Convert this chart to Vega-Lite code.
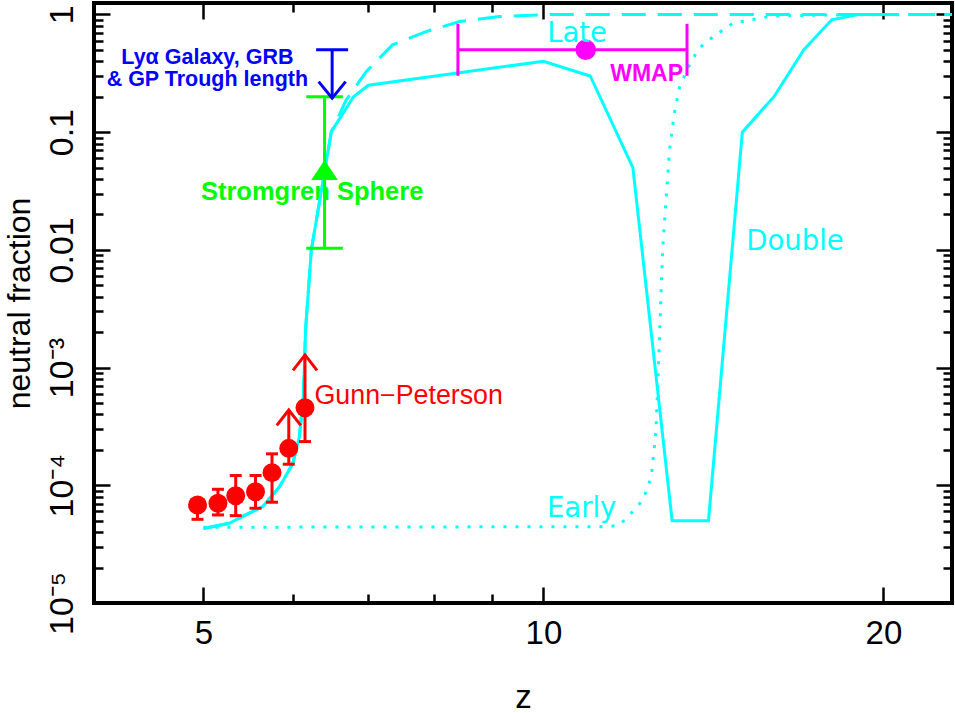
{
  "$schema": "https://vega.github.io/schema/vega-lite/v6.json",
  "width": 858,
  "height": 600,
  "autosize": "none",
  "padding": {"left": 94, "top": 3, "right": 3, "bottom": 110},
  "background": "white",
  "config": {"view": {"stroke": "black", "strokeWidth": 4}},
  "resolve": {"axis": {"x": "independent", "y": "independent"}},
  "layer": [
    {
      "data": {"values": [{"z": 6.24, "f": 0.0265, "t": "Stromgren Sphere"}]},
      "mark": {"type": "text", "font": "Liberation Sans", "fontSize": 25.5, "fontWeight": "bold", "color": "#00FF00", "align": "center", "baseline": "alphabetic"},
      "encoding": {
        "x": {"field": "z", "type": "quantitative", "scale": {"type": "log", "domain": [4, 23], "nice": false, "zero": false}, "axis": null},
        "y": {"field": "f", "type": "quantitative", "scale": {"type": "log", "domain": [0.00001, 1.25], "nice": false, "zero": false}, "axis": null},
        "text": {"field": "t"}
      }
    },
    {
      "data": {"values": [
        {"z": 5.0, "f": 4.4e-5}, {"z": 11.4, "f": 4.45e-5}, {"z": 11.68, "f": 4.6e-5}, {"z": 12.0, "f": 6.0e-5},
        {"z": 12.25, "f": 7.5e-5}, {"z": 12.46, "f": 1.18e-4}, {"z": 12.58, "f": 2.95e-4}, {"z": 12.68, "f": 2.3e-3},
        {"z": 12.75, "f": 0.01}, {"z": 12.84, "f": 0.0265}, {"z": 12.93, "f": 0.0706}, {"z": 13.06, "f": 0.146},
        {"z": 13.2, "f": 0.244}, {"z": 13.47, "f": 0.372}, {"z": 13.7, "f": 0.5}, {"z": 13.94, "f": 0.588},
        {"z": 14.71, "f": 0.842}, {"z": 15.95, "f": 0.971}, {"z": 18, "f": 0.99}, {"z": 23, "f": 1.0}
      ]},
      "mark": {"type": "line", "color": "#00FFFF", "strokeWidth": 3, "strokeDash": [3, 9]},
      "encoding": {
        "x": {"field": "z", "type": "quantitative", "scale": {"type": "log", "domain": [4, 23], "nice": false, "zero": false},
          "axis": {"orient": "bottom", "values": [5, 10, 20], "format": "d", "ticks": false, "domain": false, "grid": false,
            "labelFont": "Liberation Sans", "labelFontSize": 33, "labelColor": "black", "labelPadding": 40, "labelBaseline": "alphabetic",
            "labelAlign": "center", "labelAngle": 0, "labelFlush": false, "labelOverlap": false,
            "title": "z", "titleFont": "Liberation Sans", "titleFontSize": 33, "titleFontWeight": "normal", "titleColor": "black",
            "titleY": 104, "titleBaseline": "alphabetic"}},
        "y": {"field": "f", "type": "quantitative", "scale": {"type": "log", "domain": [0.00001, 1.25], "nice": false, "zero": false},
          "axis": {"orient": "left", "values": [0.00001, 0.0001, 0.001, 0.01, 0.1, 1], "ticks": false, "domain": false, "grid": false,
            "labelExpr": "datum.value > 0.5 ? '1' : datum.value > 0.05 ? '0.1' : datum.value > 0.005 ? '0.01' : datum.value > 0.0005 ? '10⁻³' : datum.value > 0.00005 ? '10⁻⁴' : '10⁻⁵'",
            "labelFont": "Liberation Sans", "labelFontSize": 34, "labelColor": "black", "labelAngle": 270, "labelAlign": "center",
            "labelBaseline": "alphabetic", "labelPadding": 22, "labelOverlap": false, "labelFlush": false,
            "title": "neutral fraction", "titleFont": "Liberation Sans", "titleFontSize": 32, "titleFontWeight": "normal", "titleColor": "black",
            "titleAngle": 270, "titleX": -65, "titleY": 300, "titleAlign": "center", "titleBaseline": "alphabetic"}}
      }
    },
    {
      "data": {"values": [
        {"z": 5.0, "f": 4.3e-5}, {"z": 5.27, "f": 4.75e-5}, {"z": 5.45, "f": 5.6e-5}, {"z": 5.64, "f": 6.58e-5}, {"z": 5.84, "f": 9.73e-5},
        {"z": 6.0, "f": 1.54e-4}, {"z": 6.08, "f": 2.59e-4}, {"z": 6.13, "f": 5.66e-4}, {"z": 6.157, "f": 2.09e-3},
        {"z": 6.23, "f": 0.01}, {"z": 6.49, "f": 0.101}, {"z": 6.69, "f": 0.188}, {"z": 6.97, "f": 0.327},
        {"z": 7.35, "f": 0.551}, {"z": 7.87, "f": 0.714}, {"z": 8.43, "f": 0.869}, {"z": 9.14, "f": 0.958},
        {"z": 10.12, "f": 1.0}, {"z": 23, "f": 1.0}
      ]},
      "mark": {"type": "line", "color": "#00FFFF", "strokeWidth": 3, "strokeDash": [24, 12]},
      "encoding": {
        "x": {"field": "z", "type": "quantitative", "scale": {"type": "log", "domain": [4, 23], "nice": false, "zero": false},
          "axis": {"orient": "bottom", "values": [5, 10, 20], "labels": false, "domain": false, "grid": false, "ticks": true, "tickSize": -16, "tickWidth": 2.5, "tickColor": "black", "title": null}},
        "y": {"field": "f", "type": "quantitative", "scale": {"type": "log", "domain": [0.00001, 1.25], "nice": false, "zero": false},
          "axis": {"orient": "left", "values": [0.00001, 0.0001, 0.001, 0.01, 0.1, 1], "labels": false, "domain": false, "grid": false, "ticks": true, "tickSize": -16, "tickWidth": 2.5, "tickColor": "black", "title": null}}
      }
    },
    {
      "data": {"values": [
        {"z": 5.0, "f": 4.3e-5}, {"z": 5.27, "f": 4.75e-5}, {"z": 5.45, "f": 5.6e-5}, {"z": 5.64, "f": 6.58e-5}, {"z": 5.84, "f": 9.73e-5},
        {"z": 6.0, "f": 1.54e-4}, {"z": 6.08, "f": 2.59e-4}, {"z": 6.13, "f": 5.66e-4}, {"z": 6.157, "f": 2.09e-3},
        {"z": 6.23, "f": 0.01}, {"z": 6.49, "f": 0.101}, {"z": 6.79, "f": 0.2}, {"z": 7.0, "f": 0.25},
        {"z": 10, "f": 0.4}, {"z": 11, "f": 0.3}, {"z": 12, "f": 0.05}, {"z": 13, "f": 5e-5}, {"z": 14, "f": 5e-5},
        {"z": 15, "f": 0.1}, {"z": 16, "f": 0.2}, {"z": 17, "f": 0.5}, {"z": 18, "f": 0.9}, {"z": 19, "f": 1.0}, {"z": 20, "f": 1.0}
      ]},
      "mark": {"type": "line", "color": "#00FFFF", "strokeWidth": 3},
      "encoding": {
        "x": {"field": "z", "type": "quantitative", "scale": {"type": "log", "domain": [4, 23], "nice": false, "zero": false},
          "axis": {"orient": "bottom", "values": [6, 7, 8, 9], "labels": false, "domain": false, "grid": false, "ticks": true, "tickSize": -9, "tickWidth": 2.5, "tickColor": "black", "title": null}},
        "y": {"field": "f", "type": "quantitative", "scale": {"type": "log", "domain": [0.00001, 1.25], "nice": false, "zero": false},
          "axis": {"orient": "left", "values": [0.00002, 0.00003, 0.00004, 0.00005, 0.00006, 0.00007, 0.00008, 0.00009, 0.0002, 0.0003, 0.0004, 0.0005, 0.0006, 0.0007, 0.0008, 0.0009, 0.002, 0.003, 0.004, 0.005, 0.006, 0.007, 0.008, 0.009, 0.02, 0.03, 0.04, 0.05, 0.06, 0.07, 0.08, 0.09, 0.2, 0.3, 0.4, 0.5, 0.6, 0.7, 0.8, 0.9], "labels": false, "domain": false, "grid": false, "ticks": true, "tickSize": -9, "tickWidth": 2.5, "tickColor": "black", "title": null}}
      }
    },
    {
      "data": {"values": [
        {"z": 4.94, "lo": 5.14e-5, "hi": 7.5e-5}, {"z": 5.15, "lo": 5.6e-5, "hi": 9.25e-5}, {"z": 5.34, "lo": 5.52e-5, "hi": 1.21e-4},
        {"z": 5.56, "lo": 6.38e-5, "hi": 1.21e-4}, {"z": 5.75, "lo": 7.18e-5, "hi": 1.85e-4}, {"z": 5.95, "lo": 1.51e-4, "hi": 4.36e-4},
        {"z": 6.15, "lo": 2.35e-4, "hi": 1.28e-3}
      ]},
      "mark": {"type": "rule", "color": "#FF0000", "strokeWidth": 3},
      "encoding": {
        "x": {"field": "z", "type": "quantitative", "scale": {"type": "log", "domain": [4, 23], "nice": false, "zero": false},
          "axis": {"orient": "top", "values": [5, 10, 20], "labels": false, "domain": false, "grid": false, "ticks": true, "tickSize": -16, "tickWidth": 2.5, "tickColor": "black", "title": null}},
        "y": {"field": "lo", "type": "quantitative", "scale": {"type": "log", "domain": [0.00001, 1.25], "nice": false, "zero": false},
          "axis": {"orient": "right", "values": [0.00001, 0.0001, 0.001, 0.01, 0.1, 1], "labels": false, "domain": false, "grid": false, "ticks": true, "tickSize": -16, "tickWidth": 2.5, "tickColor": "black", "title": null}},
        "y2": {"field": "hi"}
      }
    },
    {
      "data": {"values": [
        {"z": 4.94, "f": 6.8e-5}, {"z": 5.15, "f": 7.03e-5}, {"z": 5.34, "f": 8.16e-5}, {"z": 5.56, "f": 8.82e-5},
        {"z": 5.75, "f": 1.28e-4}, {"z": 5.95, "f": 2.06e-4}, {"z": 6.15, "f": 4.56e-4}
      ]},
      "mark": {"type": "point", "shape": "circle", "filled": true, "color": "#FF0000", "size": 360, "opacity": 1},
      "encoding": {
        "x": {"field": "z", "type": "quantitative", "scale": {"type": "log", "domain": [4, 23], "nice": false, "zero": false},
          "axis": {"orient": "top", "values": [6, 7, 8, 9], "labels": false, "domain": false, "grid": false, "ticks": true, "tickSize": -9, "tickWidth": 2.5, "tickColor": "black", "title": null}},
        "y": {"field": "f", "type": "quantitative", "scale": {"type": "log", "domain": [0.00001, 1.25], "nice": false, "zero": false},
          "axis": {"orient": "right", "values": [0.00002, 0.00003, 0.00004, 0.00005, 0.00006, 0.00007, 0.00008, 0.00009, 0.0002, 0.0003, 0.0004, 0.0005, 0.0006, 0.0007, 0.0008, 0.0009, 0.002, 0.003, 0.004, 0.005, 0.006, 0.007, 0.008, 0.009, 0.02, 0.03, 0.04, 0.05, 0.06, 0.07, 0.08, 0.09, 0.2, 0.3, 0.4, 0.5, 0.6, 0.7, 0.8, 0.9], "labels": false, "domain": false, "grid": false, "ticks": true, "tickSize": -9, "tickWidth": 2.5, "tickColor": "black", "title": null}}
      }
    },
    {
      "data": {"values": [
        {"z": 4.94, "f": 5.14e-5}, {"z": 5.15, "f": 5.6e-5}, {"z": 5.34, "f": 5.52e-5}, {"z": 5.56, "f": 6.38e-5},
        {"z": 5.75, "f": 7.18e-5}, {"z": 5.95, "f": 1.51e-4}, {"z": 6.15, "f": 2.35e-4},
        {"z": 5.15, "f": 9.25e-5}, {"z": 5.34, "f": 1.21e-4}, {"z": 5.56, "f": 1.21e-4}, {"z": 5.75, "f": 1.85e-4}
      ]},
      "mark": {"type": "point", "shape": "M -1 0 L 1 0", "filled": false, "stroke": "#FF0000", "strokeWidth": 3, "size": 144, "opacity": 1},
      "encoding": {
        "x": {"field": "z", "type": "quantitative", "scale": {"type": "log", "domain": [4, 23], "nice": false, "zero": false}, "axis": null},
        "y": {"field": "f", "type": "quantitative", "scale": {"type": "log", "domain": [0.00001, 1.25], "nice": false, "zero": false}, "axis": null}
      }
    },
    {
      "data": {"values": [{"z": 5.95, "f": 4.36e-4}, {"z": 6.15, "f": 1.28e-3}]},
      "mark": {"type": "point", "shape": "M -1 1.28 L 0 0 L 1 1.28", "filled": false, "stroke": "#FF0000", "strokeWidth": 3, "size": 576, "opacity": 1},
      "encoding": {
        "x": {"field": "z", "type": "quantitative", "scale": {"type": "log", "domain": [4, 23], "nice": false, "zero": false}, "axis": null},
        "y": {"field": "f", "type": "quantitative", "scale": {"type": "log", "domain": [0.00001, 1.25], "nice": false, "zero": false}, "axis": null}
      }
    },
    {
      "data": {"values": [{"z": 6.4, "lo": 0.0103, "hi": 0.2}]},
      "mark": {"type": "rule", "color": "#00FF00", "strokeWidth": 3},
      "encoding": {
        "x": {"field": "z", "type": "quantitative", "scale": {"type": "log", "domain": [4, 23], "nice": false, "zero": false}, "axis": null},
        "y": {"field": "lo", "type": "quantitative", "scale": {"type": "log", "domain": [0.00001, 1.25], "nice": false, "zero": false}, "axis": null},
        "y2": {"field": "hi"}
      }
    },
    {
      "data": {"values": [{"z": 6.4, "f": 0.0103}, {"z": 6.4, "f": 0.2}]},
      "mark": {"type": "point", "shape": "M -1 0 L 1 0", "filled": false, "stroke": "#00FF00", "strokeWidth": 3, "size": 1340, "opacity": 1},
      "encoding": {
        "x": {"field": "z", "type": "quantitative", "scale": {"type": "log", "domain": [4, 23], "nice": false, "zero": false}, "axis": null},
        "y": {"field": "f", "type": "quantitative", "scale": {"type": "log", "domain": [0.00001, 1.25], "nice": false, "zero": false}, "axis": null}
      }
    },
    {
      "data": {"values": [{"z": 6.4, "f": 0.0477}]},
      "mark": {"type": "point", "shape": "M 0 -0.75 L -1 0.75 L 1 0.75 Z", "filled": true, "color": "#00FF00", "size": 712, "opacity": 1},
      "encoding": {
        "x": {"field": "z", "type": "quantitative", "scale": {"type": "log", "domain": [4, 23], "nice": false, "zero": false}, "axis": null},
        "y": {"field": "f", "type": "quantitative", "scale": {"type": "log", "domain": [0.00001, 1.25], "nice": false, "zero": false}, "axis": null}
      }
    },
    {
      "data": {"values": [{"z": 6.5, "lo": 0.194, "hi": 0.5}]},
      "mark": {"type": "rule", "color": "#0000FF", "strokeWidth": 3},
      "encoding": {
        "x": {"field": "z", "type": "quantitative", "scale": {"type": "log", "domain": [4, 23], "nice": false, "zero": false}, "axis": null},
        "y": {"field": "lo", "type": "quantitative", "scale": {"type": "log", "domain": [0.00001, 1.25], "nice": false, "zero": false}, "axis": null},
        "y2": {"field": "hi"}
      }
    },
    {
      "data": {"values": [{"z": 6.5, "f": 0.5}]},
      "mark": {"type": "point", "shape": "M -1 0 L 1 0", "filled": false, "stroke": "#0000FF", "strokeWidth": 3, "size": 1024, "opacity": 1},
      "encoding": {
        "x": {"field": "z", "type": "quantitative", "scale": {"type": "log", "domain": [4, 23], "nice": false, "zero": false}, "axis": null},
        "y": {"field": "f", "type": "quantitative", "scale": {"type": "log", "domain": [0.00001, 1.25], "nice": false, "zero": false}, "axis": null}
      }
    },
    {
      "data": {"values": [{"z": 6.5, "f": 0.194}]},
      "mark": {"type": "point", "shape": "M -1 -1.23 L 0 0 L 1 -1.23", "filled": false, "stroke": "#0000FF", "strokeWidth": 3, "size": 729, "opacity": 1},
      "encoding": {
        "x": {"field": "z", "type": "quantitative", "scale": {"type": "log", "domain": [4, 23], "nice": false, "zero": false}, "axis": null},
        "y": {"field": "f", "type": "quantitative", "scale": {"type": "log", "domain": [0.00001, 1.25], "nice": false, "zero": false}, "axis": null}
      }
    },
    {
      "data": {"values": [{"z1": 8.4, "z2": 13.4, "f": 0.5}]},
      "mark": {"type": "rule", "color": "#FF00FF", "strokeWidth": 3},
      "encoding": {
        "x": {"field": "z1", "type": "quantitative", "scale": {"type": "log", "domain": [4, 23], "nice": false, "zero": false}, "axis": null},
        "x2": {"field": "z2"},
        "y": {"field": "f", "type": "quantitative", "scale": {"type": "log", "domain": [0.00001, 1.25], "nice": false, "zero": false}, "axis": null}
      }
    },
    {
      "data": {"values": [{"z": 8.4, "f": 0.5}, {"z": 13.4, "f": 0.5}]},
      "mark": {"type": "point", "shape": "M 0 -1 L 0 1", "filled": false, "stroke": "#FF00FF", "strokeWidth": 3, "size": 2704, "opacity": 1},
      "encoding": {
        "x": {"field": "z", "type": "quantitative", "scale": {"type": "log", "domain": [4, 23], "nice": false, "zero": false}, "axis": null},
        "y": {"field": "f", "type": "quantitative", "scale": {"type": "log", "domain": [0.00001, 1.25], "nice": false, "zero": false}, "axis": null}
      }
    },
    {
      "data": {"values": [{"z": 10.9, "f": 0.5}]},
      "mark": {"type": "point", "shape": "circle", "filled": true, "color": "#FF00FF", "size": 420, "opacity": 1},
      "encoding": {
        "x": {"field": "z", "type": "quantitative", "scale": {"type": "log", "domain": [4, 23], "nice": false, "zero": false}, "axis": null},
        "y": {"field": "f", "type": "quantitative", "scale": {"type": "log", "domain": [0.00001, 1.25], "nice": false, "zero": false}, "axis": null}
      }
    },
    {
      "data": {"values": [{"z": 10.71, "f": 0.588, "t": "Late"}, {"z": 10.81, "f": 5.38e-5, "t": "Early"}, {"z": 16.7, "f": 0.01, "t": "Double"}]},
      "mark": {"type": "text", "font": "DejaVu Sans", "fontSize": 27.5, "fontWeight": "normal", "color": "#00FFFF", "align": "center", "baseline": "alphabetic"},
      "encoding": {
        "x": {"field": "z", "type": "quantitative", "scale": {"type": "log", "domain": [4, 23], "nice": false, "zero": false}, "axis": null},
        "y": {"field": "f", "type": "quantitative", "scale": {"type": "log", "domain": [0.00001, 1.25], "nice": false, "zero": false}, "axis": null},
        "text": {"field": "t"}
      }
    },
    {
      "data": {"values": [{"z": 6.27, "f": 4.91e-4, "t": "Gunn−Peterson"}]},
      "mark": {"type": "text", "font": "Liberation Sans", "fontSize": 26.8, "fontWeight": "normal", "color": "#FF0000", "align": "left", "baseline": "alphabetic"},
      "encoding": {
        "x": {"field": "z", "type": "quantitative", "scale": {"type": "log", "domain": [4, 23], "nice": false, "zero": false}, "axis": null},
        "y": {"field": "f", "type": "quantitative", "scale": {"type": "log", "domain": [0.00001, 1.25], "nice": false, "zero": false}, "axis": null},
        "text": {"field": "t"}
      }
    },
    {
      "data": {"values": [{"z": 5.04, "f": 0.38, "t": "Lyα Galaxy, GRB"}, {"z": 5.04, "f": 0.247, "t": "& GP Trough length"}]},
      "mark": {"type": "text", "font": "Liberation Sans", "fontSize": 21.5, "fontWeight": "bold", "color": "#0000FF", "align": "center", "baseline": "alphabetic"},
      "encoding": {
        "x": {"field": "z", "type": "quantitative", "scale": {"type": "log", "domain": [4, 23], "nice": false, "zero": false}, "axis": null},
        "y": {"field": "f", "type": "quantitative", "scale": {"type": "log", "domain": [0.00001, 1.25], "nice": false, "zero": false}, "axis": null},
        "text": {"field": "t"}
      }
    },
    {
      "data": {"values": [{"z": 12.34, "f": 0.27, "t": "WMAP"}]},
      "mark": {"type": "text", "font": "Liberation Sans", "fontSize": 23, "fontWeight": "bold", "color": "#FF00FF", "align": "center", "baseline": "alphabetic"},
      "encoding": {
        "x": {"field": "z", "type": "quantitative", "scale": {"type": "log", "domain": [4, 23], "nice": false, "zero": false}, "axis": null},
        "y": {"field": "f", "type": "quantitative", "scale": {"type": "log", "domain": [0.00001, 1.25], "nice": false, "zero": false}, "axis": null},
        "text": {"field": "t"}
      }
    }
  ]
}
